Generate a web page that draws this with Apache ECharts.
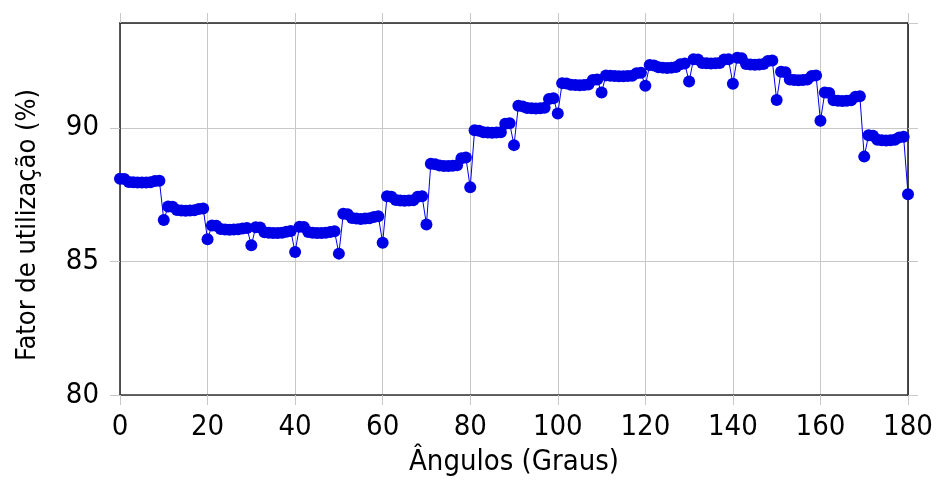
<!DOCTYPE html>
<html>
<head>
<meta charset="utf-8">
<script src="https://cdn.jsdelivr.net/npm/echarts@6/dist/echarts.min.js"></script>
<style>html,body{margin:0;padding:0;background:#fff}#main{width:937px;height:483px}</style>
</head>
<body>
<div id="main"></div>
<script>
// angles 0..180, one point per degree
var angulos = [];
for (var a = 0; a <= 180; a++) angulos.push(a);

// fator de utilizacao (%) per decade
var fator0 = [88.09, 88.08, 87.97, 87.96, 87.95, 87.95, 87.95, 87.96, 88.01, 88.02];
var fator1 = [86.55, 87.05, 87.04, 86.92, 86.90, 86.89, 86.90, 86.91, 86.96, 86.98];
var fator2 = [85.83, 86.34, 86.33, 86.21, 86.19, 86.18, 86.19, 86.20, 86.23, 86.25];
var fator3 = [85.60, 86.28, 86.27, 86.09, 86.07, 86.06, 86.06, 86.07, 86.11, 86.14];
var fator4 = [85.35, 86.30, 86.29, 86.10, 86.07, 86.06, 86.06, 86.07, 86.10, 86.13];
var fator5 = [85.29, 86.78, 86.76, 86.62, 86.60, 86.59, 86.60, 86.61, 86.66, 86.69];
var fator6 = [85.70, 87.44, 87.42, 87.30, 87.28, 87.27, 87.28, 87.29, 87.42, 87.44];
var fator7 = [86.38, 88.65, 88.63, 88.59, 88.57, 88.57, 88.58, 88.60, 88.86, 88.89];
var fator8 = [87.77, 89.91, 89.89, 89.83, 89.82, 89.81, 89.82, 89.83, 90.15, 90.17];
var fator9 = [89.35, 90.82, 90.80, 90.74, 90.73, 90.72, 90.73, 90.75, 91.08, 91.10];
var fator10 = [90.53, 91.67, 91.66, 91.61, 91.60, 91.59, 91.60, 91.62, 91.79, 91.81];
var fator11 = [91.32, 91.96, 91.95, 91.94, 91.93, 91.93, 91.94, 91.95, 92.04, 92.06];
var fator12 = [91.57, 92.35, 92.33, 92.26, 92.25, 92.24, 92.25, 92.27, 92.38, 92.40];
var fator13 = [91.73, 92.56, 92.55, 92.42, 92.41, 92.40, 92.41, 92.42, 92.55, 92.56];
var fator14 = [91.65, 92.62, 92.60, 92.39, 92.37, 92.36, 92.37, 92.39, 92.50, 92.52];
var fator15 = [91.04, 92.10, 92.08, 91.81, 91.79, 91.78, 91.79, 91.81, 91.94, 91.96];
var fator16 = [90.26, 91.32, 91.30, 91.03, 91.01, 91.00, 91.01, 91.03, 91.16, 91.18];
var fator17 = [88.92, 89.72, 89.70, 89.55, 89.53, 89.52, 89.53, 89.55, 89.64, 89.66];
var fator18 = [87.51];

var fator = [].concat(fator0, fator1, fator2, fator3, fator4, fator5, fator6, fator7,
  fator8, fator9, fator10, fator11, fator12, fator13, fator14, fator15, fator16, fator17, fator18);

var xTicks = [0, 20, 40, 60, 80, 100, 120, 140, 160, 180];
var yTicks = [80, 85, 90];

var pontos = angulos.map(function (a, i) { return [a, fator[i]]; });

var fonte = '"DejaVu Sans Condensed", "DejaVu Sans", sans-serif';
var cinza = '#c8c8c8';

var myChart = echarts.init(document.getElementById('main'));

var option = {
  backgroundColor: '#ffffff',
  animation: false,
  grid: { left: 120, right: 29, top: 23, bottom: 88 },
  // y axis title placed by hand so it sits where the original has it
  graphic: [
    {
      type: 'text', x: 28, y: 225, rotation: Math.PI / 2,
      style: { text: 'Fator de utilização (%)', fontFamily: fonte, fontSize: 27,
        fill: '#000', textAlign: 'center', textVerticalAlign: 'middle' }
    }
  ],
  xAxis: [
    {
      type: 'value', min: 0, max: 180, interval: 20,
      name: 'Ângulos (Graus)', nameLocation: 'middle', nameGap: 53,
      nameTextStyle: { fontFamily: fonte, fontSize: 29, color: '#000' },
      axisLine: { show: true, lineStyle: { color: '#333', width: 1.5 } },
      axisTick: { show: true, length: 10, inside: false, lineStyle: { color: cinza } },
      axisLabel: { fontFamily: fonte, fontSize: 29, color: '#000', margin: 18,
        formatter: function (v) { return xTicks.indexOf(v) >= 0 ? String(v) : ''; } },
      splitLine: { show: true, lineStyle: { color: cinza, width: 1 } }
    },
    {
      type: 'value', min: 0, max: 180, interval: 20, position: 'top',
      axisLine: { show: true, onZero: false, lineStyle: { color: '#222', width: 1.5 } },
      axisTick: { show: true, length: 10, lineStyle: { color: cinza } },
      axisLabel: { show: false }, splitLine: { show: false }
    }
  ],
  yAxis: [
    {
      type: 'value', min: 80, max: 93.92, interval: 5,
      axisLine: { show: true, lineStyle: { color: '#222', width: 1.5 } },
      axisTick: { show: true, length: 10, lineStyle: { color: cinza } },
      axisLabel: { fontFamily: fonte, fontSize: 29, color: '#000', margin: 21, showMaxLabel: false,
        formatter: function (v) { return yTicks.indexOf(v) >= 0 ? String(v) : ''; } },
      splitLine: { show: true, lineStyle: { color: cinza, width: 1 } }
    },
    {
      type: 'value', min: 80, max: 93.92, interval: 5, position: 'right',
      axisLine: { show: true, onZero: false, lineStyle: { color: '#111', width: 1.5 } },
      axisTick: { show: true, length: 10, lineStyle: { color: cinza } },
      axisLabel: { show: false }, splitLine: { show: false }
    }
  ],
  series: [
    {
      type: 'line',
      data: pontos,
      xAxisIndex: 0, yAxisIndex: 0,
      symbol: 'circle',
      symbolSize: 12,
      showAllSymbol: true,
      lineStyle: { color: '#0000ee', width: 1 },
      itemStyle: { color: '#0000e6' }
    }
  ]
};
myChart.setOption(option);
</script>
</body>
</html>
